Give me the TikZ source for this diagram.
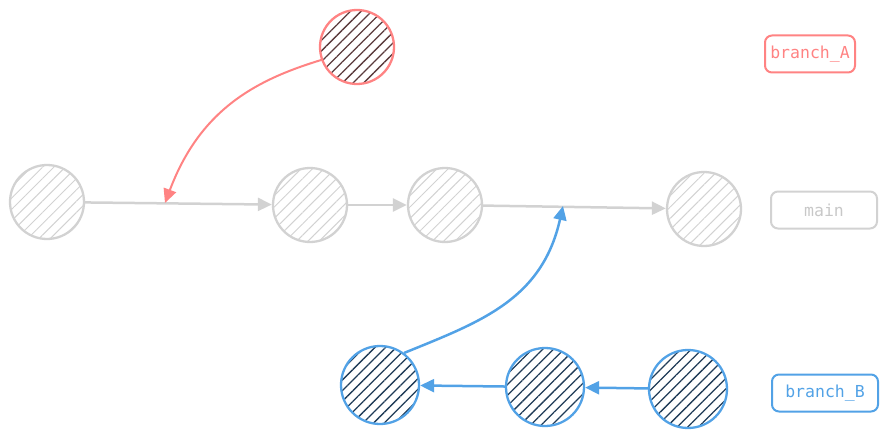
\documentclass[tikz,border=0pt]{standalone}
\usepackage{fontspec}
\setmonofont{DejaVu Sans Mono}
\usetikzlibrary{patterns.meta,arrows.meta}
\definecolor{cred}{HTML}{FF8383}
\definecolor{cblue}{HTML}{52A2E6}
\definecolor{cgray}{HTML}{D2D2D2}
\definecolor{hred}{HTML}{5A3A3C}
\definecolor{hblue}{HTML}{1F3B57}
\definecolor{tgray}{HTML}{C8C8C8}
\tikzset{
  commit/.style={circle, inner sep=0pt, minimum size=74pt, line width=2.3pt},
  graycommit/.style={commit, draw=cgray, pattern={Lines[angle=45,distance=8pt,line width=1pt]}, pattern color=cgray},
  redcommit/.style={commit, draw=cred, pattern={Lines[angle=45,distance=7.5pt,line width=1.3pt]}, pattern color=hred},
  bluecommit/.style={commit, minimum size=78pt, draw=cblue, pattern={Lines[angle=45,distance=7.5pt,line width=1.3pt]}, pattern color=hblue},
  label/.style={draw, rounded corners=7pt, line width=2pt, minimum height=37pt, font=\ttfamily\fontsize{16.5}{19}\selectfont},
  conn/.style={line width=2.5pt, -{Triangle[length=14pt,width=13pt]}},
}
\begin{document}
\begin{tikzpicture}[x=1pt,y=-1pt]
\useasboundingbox (0,0) rectangle (887,436);
% main row
\node[graycommit] (g1) at (47,202) {};
\node[graycommit] (g2) at (310,205) {};
\node[graycommit] (g3) at (445,205) {};
\node[graycommit] (g4) at (704,209) {};
% branch A
\node[redcommit] (a1) at (357,47) {};
% branch B
\node[bluecommit] (b1) at (380,385) {};
\node[bluecommit] (b2) at (545,387) {};
\node[bluecommit] (b3) at (688,389) {};
% labels
\node[label, draw=cred, text=cred, minimum width=90pt] (la) at (810,54) {branch\_A};
\node[label, draw=cgray, text=tgray, minimum width=106pt] (lm) at (824,210) {main};
\node[label, draw=cblue, text=cblue, minimum width=106pt] (lb) at (825,393) {branch\_B};
% junction points
\coordinate (ja) at (165,203);
\coordinate (jb) at (563,206);
% connectors
\draw[conn, cgray] (g1) -- (g2);
\draw[conn, cgray] (g2) -- (g3);
\draw[conn, cgray] (g3) -- (g4);
\draw[conn, cred, line width=2pt] (a1.200) .. controls (255,80) and (200,110) .. (ja);
\draw[conn, cblue] (b1.53) .. controls (480,322) and (542,300) .. (jb);
\draw[conn, cblue] (b2) -- (b1);
\draw[conn, cblue] (b3) -- (b2);
\end{tikzpicture}
\end{document}
